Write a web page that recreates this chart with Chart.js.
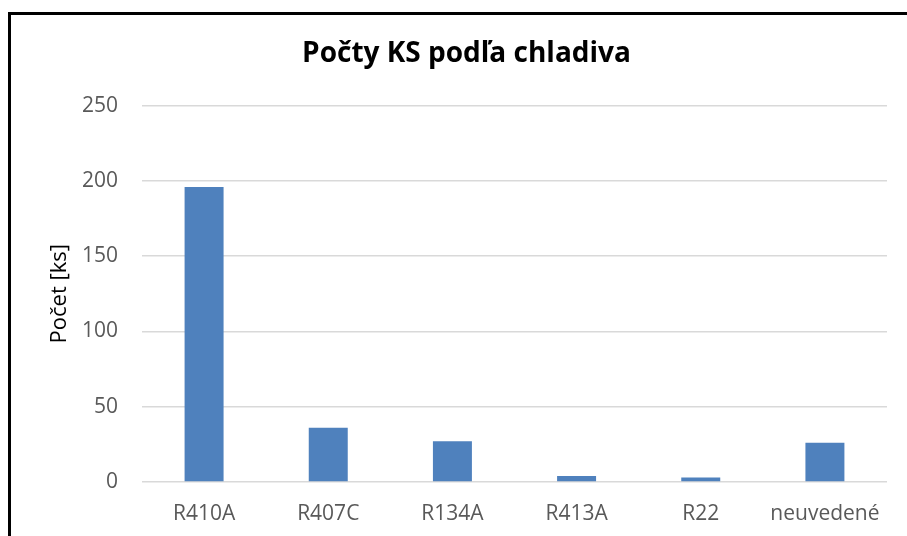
<!DOCTYPE html>
<html>
<head>
<meta charset="utf-8">
<script src="https://cdn.jsdelivr.net/npm/chart.js@4.4.1/dist/chart.umd.min.js"></script>
<style>
  html, body { margin: 0; padding: 0; background: #fff; overflow: hidden; }
  #wrap { position: relative; width: 907px; height: 536px; }
  #frame {
    position: absolute; left: 8px; top: 12px; width: 920px; height: 560px;
    border-left: 3px solid #000; border-top: 3px solid #000; pointer-events: none;
  }
</style>
</head>
<body>
<div id="wrap">
  <canvas id="chart" width="907" height="536"></canvas>
  <div id="frame"></div>
</div>
<script>
const categories = ['R410A', 'R407C', 'R134A', 'R413A', 'R22', 'neuvedené']
const counts = [196, 36, 27, 4, 3, 26]
const yTicks = [0, 50, 100, 150, 200, 250]

const font = "'Open Sans', 'DejaVu Sans', sans-serif"

// the title in the original sits a bit right of the canvas centre
const shiftTitle = {
  id: 'shiftTitle',
  afterLayout(chart) {
    const t = chart.titleBlock
    if (t) { t.left += 17; t.right += 17 }
  }
}

const chart = new Chart(document.getElementById('chart'), {
  type: 'bar',
  data: {
    labels: categories,
    datasets: [{
      label: 'Počet',
      data: counts,
      backgroundColor: '#4f81bd',
      borderWidth: 0,
      categoryPercentage: 1,
      barPercentage: 0.314
    }]
  },
  plugins: [shiftTitle],
  options: {
    responsive: false,
    animation: false,
    layout: { padding: { left: 12, top: 14, right: 20, bottom: 0 } },
    plugins: {
      legend: { display: false },
      tooltip: { enabled: false },
      title: {
        display: true,
        text: 'Počty KS podľa chladiva',
        color: '#000',
        font: { family: font, size: 28, weight: 'bold' },
        padding: { top: 23, bottom: 35 }
      }
    },
    scales: {
      x: {
        grid: { display: false, drawTicks: false },
        border: { display: false },
        ticks: { color: '#595959', font: { family: font, size: 21 }, padding: 19, maxRotation: 0 },
        afterFit: s => { s.height = 54 }
      },
      y: {
        min: 0,
        max: 250,
        afterBuildTicks: s => { s.ticks = yTicks.map(v => ({ value: v })) },
        grid: { color: '#d9d9d9', lineWidth: 1.5, drawTicks: false },
        border: { display: false },
        ticks: { color: '#595959', font: { family: font, size: 21 }, padding: 24 },
        title: {
          display: true,
          text: 'Počet [ks]',
          color: '#000',
          font: { family: font, size: 22 },
          padding: { top: 35, bottom: 0 }
        },
        afterFit: s => { s.width = 130 }
      }
    }
  }
})
</script>
</body>
</html>
